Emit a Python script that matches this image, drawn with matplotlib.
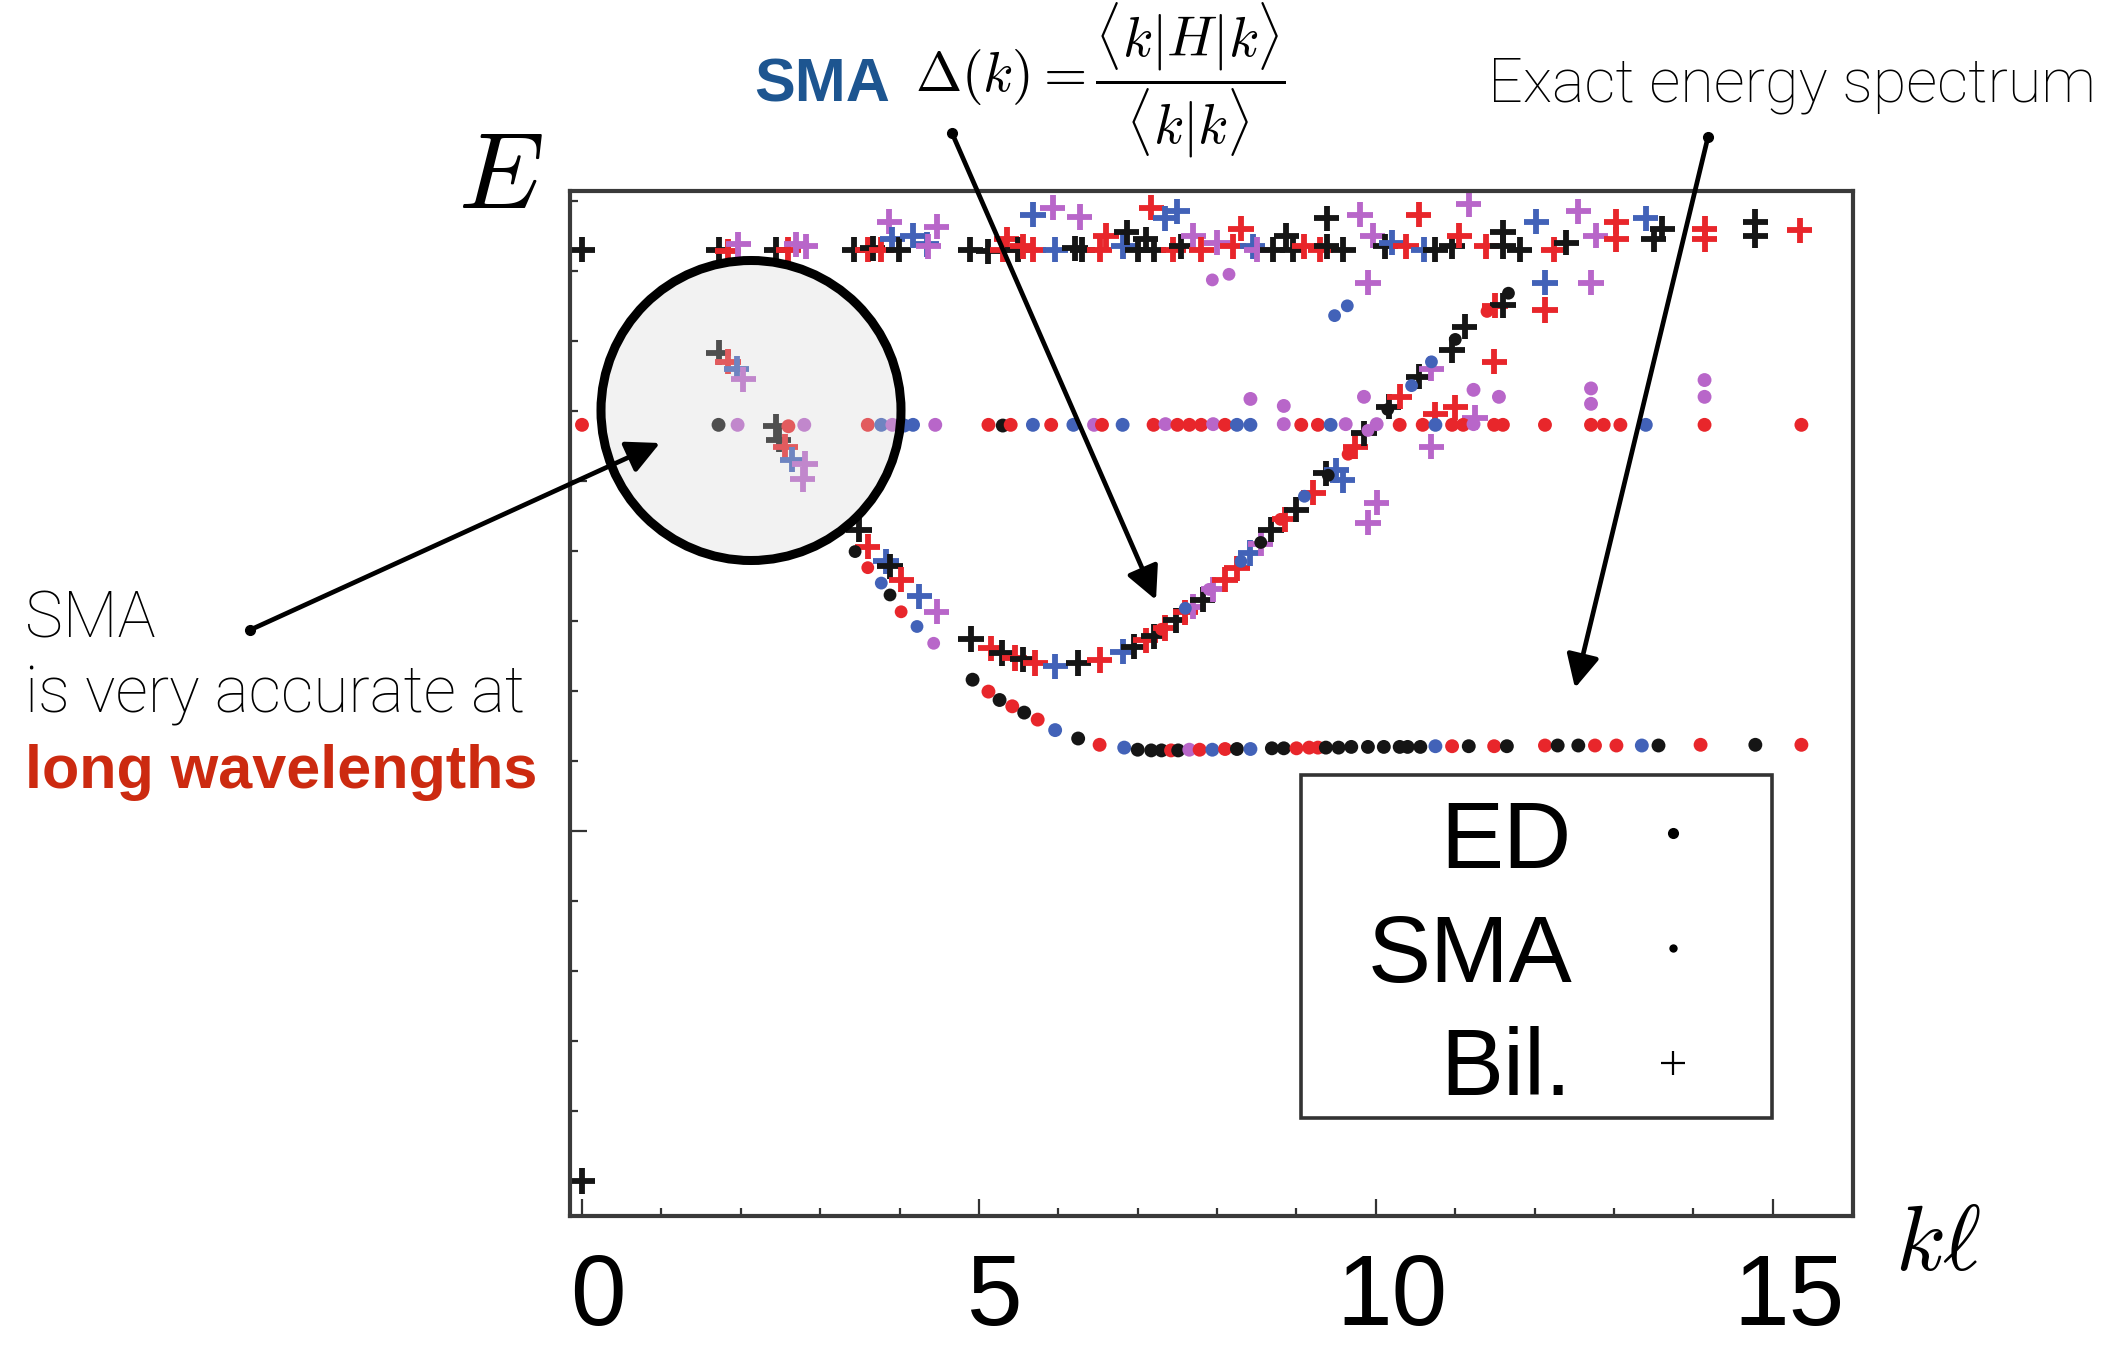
import matplotlib
matplotlib.use("Agg")
import matplotlib.pyplot as plt
from matplotlib.patches import Ellipse, FancyArrowPatch, Rectangle
from matplotlib.lines import Line2D
from matplotlib.transforms import ScaledTranslation

plt.rcParams['mathtext.fontset'] = 'cm'
plt.rcParams['font.family'] = ['Liberation Sans', 'DejaVu Sans']

# ---------------- data (k*l, energy, colour code per point) ----------------
COLORS = {'K': '#151515', 'R': '#e8262b', 'B': '#4262b8', 'M': '#b866c9'}

# ED: lowest excitation branch
ed_low_k = [4.92, 5.12, 5.26, 5.42, 5.57, 5.74, 5.96, 6.25, 6.52, 6.83,
            7.00, 7.17, 7.30, 7.42, 7.51, 7.65, 7.78, 7.94, 8.10, 8.25,
            8.42, 8.69, 8.84, 9.00, 9.16, 9.27, 9.37, 9.53, 9.69, 9.90,
            10.10, 10.30, 10.40, 10.56, 10.75, 10.96, 11.17, 11.49, 11.65, 12.13,
            12.29, 12.55, 12.76, 13.03, 13.35, 13.56, 14.09, 14.78, 15.36]
ed_low_E = [7.16, 6.99, 6.87, 6.78, 6.69, 6.59, 6.44, 6.32, 6.23, 6.19,
            6.16, 6.15, 6.15, 6.15, 6.15, 6.16, 6.16, 6.16, 6.17, 6.17,
            6.17, 6.18, 6.18, 6.18, 6.19, 6.19, 6.19, 6.19, 6.20, 6.20,
            6.20, 6.20, 6.20, 6.20, 6.21, 6.21, 6.21, 6.21, 6.21, 6.22,
            6.22, 6.22, 6.22, 6.22, 6.22, 6.22, 6.23, 6.23, 6.23]
ed_low_c = "KRKRKRBKRB" "KKKRKMRBRK" "BKKRRRKKKK" "KKKKBRKRKR" "KKRRBKRKR"

# ED: flat band near E ~ 10.8 and a few dots above it
ed_mid_k = [0.00, 1.72, 1.96, 2.60, 2.80, 3.60, 3.77, 3.91, 4.06, 4.17,
            4.45, 5.12, 5.30, 5.40, 5.68, 5.91, 6.19, 6.45, 6.55, 6.81,
            7.20, 7.35, 7.50, 7.65, 7.80, 7.95, 8.10, 8.25, 8.42, 8.84,
            9.06, 9.27, 9.43, 9.62, 10.01, 10.30, 10.59, 10.75, 10.96, 11.10,
            11.23, 11.49, 11.60, 12.13, 12.71, 12.87, 13.08, 13.40, 14.14, 15.36,
            8.42, 8.84, 9.85, 11.23, 11.55, 12.71, 12.71, 14.14, 14.14]
ed_mid_E = [10.80, 10.80, 10.80, 10.78, 10.80, 10.80, 10.80, 10.80, 10.79, 10.80,
            10.80, 10.80, 10.79, 10.80, 10.80, 10.80, 10.80, 10.80, 10.80, 10.80,
            10.80, 10.81, 10.80, 10.80, 10.80, 10.81, 10.80, 10.80, 10.80, 10.81,
            10.80, 10.80, 10.80, 10.81, 10.81, 10.80, 10.80, 10.80, 10.80, 10.80,
            10.81, 10.80, 10.80, 10.80, 10.80, 10.80, 10.80, 10.80, 10.80, 10.80,
            11.17, 11.07, 11.20, 11.30, 11.20, 11.32, 11.10, 11.44, 11.20]
ed_mid_c = "RKMRMRBMBB" "MRKRBRBMRB" "RMRRRMRBBM" "RRBMMRRBRR" "MRRRRRRBRR" "MMMMMMMMM"

# SMA: magnetoroton branch
sma_k = [3.44, 3.60, 3.77, 3.88, 4.02, 4.22, 4.43,
         7.30, 7.60, 7.90, 8.30, 8.55, 8.80, 9.10, 9.40, 9.65, 9.90,
         10.15, 10.45, 10.70, 11.00, 11.40, 11.67,
         9.48, 9.64, 7.94, 8.15]
sma_E = [8.99, 8.76, 8.54, 8.37, 8.13, 7.92, 7.68,
         7.88, 8.18, 8.45, 8.85, 9.12, 9.45, 9.78, 10.08, 10.38, 10.72,
         11.02, 11.36, 11.70, 12.02, 12.42, 12.68,
         12.36, 12.50, 12.87, 12.95]
sma_c = "KRBKRBM" "RBMBKRBKRM" "KBBKRK" "BB" "MM"

# Bil.: ground state, long-wavelength part, magnetoroton and scattered states
bil_low_k = [0.00, 0.00,
             1.72, 1.84, 1.95, 2.03, 2.44, 2.48, 2.56, 2.65, 2.81, 2.78,
             3.49, 3.60, 3.83, 3.88, 4.02, 4.25, 4.47,
             4.90, 5.15, 5.29, 5.45, 5.55, 5.71, 5.96, 6.25, 6.52, 6.81,
             6.95, 7.10, 7.20, 7.35, 7.48, 7.60, 7.70, 7.82, 7.95, 8.10,
             8.25, 8.42, 8.55, 8.68, 8.85, 9.00, 9.21, 9.37, 9.50, 9.58,
             9.74, 9.85, 10.16, 10.30, 10.54, 10.70, 10.96, 11.12, 11.50, 11.60,
             11.49, 12.13, 12.13, 12.71, 9.90, 10.01, 9.90, 10.70, 10.75, 11.00, 11.25]
bil_low_E = [0.00, 13.30,
             11.83, 11.70, 11.60, 11.45, 10.78, 10.59, 10.49, 10.30, 10.24, 10.02,
             9.30, 9.06, 8.85, 8.78, 8.59, 8.35, 8.13,
             7.74, 7.61, 7.54, 7.47, 7.45, 7.40, 7.35, 7.40, 7.44, 7.56,
             7.63, 7.72, 7.78, 7.90, 8.01, 8.12, 8.20, 8.30, 8.45, 8.59,
             8.75, 8.97, 9.10, 9.30, 9.45, 9.59, 9.83, 10.11, 10.15, 10.01,
             10.49, 10.68, 11.06, 11.20, 11.49, 11.60, 11.87, 12.20, 12.50, 12.51,
             11.70, 12.44, 12.83, 12.83, 12.83, 9.69, 9.40, 10.49, 10.95, 11.05, 10.90]
bil_low_c = "KK" "KRBMKKRBMM" "KRBKRBM" "KRKRKRBKRB" "KRKRKRMKMR" "RBMKRKRKBB" \
            "RKKRKMKKRK" "RRBMMMMMRRM"

# Bil.: high-energy band
bil_top_k = [1.72, 1.84, 1.97, 2.45, 2.60, 2.70, 2.82,
             3.43, 3.60, 3.66, 3.77, 3.87, 3.91, 3.99, 4.17, 4.34, 4.36, 4.47,
             4.89, 5.12, 5.30, 5.35, 5.49, 5.55, 5.68, 5.68, 5.93, 5.96,
             6.21, 6.27, 6.30, 6.52, 6.60, 6.82, 6.86, 7.00, 7.10, 7.17,
             7.20, 7.35, 7.45, 7.50, 7.55, 7.70, 7.80, 8.00, 8.20, 8.30,
             8.45, 8.50, 8.70, 8.87, 8.95, 9.10, 9.30,
             9.38, 9.38, 9.59, 9.80, 9.96, 10.12, 10.20, 10.38, 10.54, 10.60,
             10.75, 10.96, 11.05, 11.17, 11.39, 11.60, 11.60, 11.81, 12.02, 12.24,
             12.40, 12.55, 12.77, 13.03, 13.03, 13.40, 13.50, 13.61, 14.14, 14.14,
             14.78, 14.78, 15.34]
bil_top_E = [13.30, 13.28, 13.38, 13.30, 13.30, 13.38, 13.35,
             13.30, 13.30, 13.32, 13.30, 13.70, 13.45, 13.30, 13.50, 13.38, 13.35, 13.63,
             13.30, 13.28, 13.30, 13.45, 13.30, 13.35, 13.80, 13.30, 13.90, 13.30,
             13.32, 13.77, 13.30, 13.30, 13.50, 13.35, 13.55, 13.30, 13.45, 13.90,
             13.30, 13.75, 13.30, 13.85, 13.35, 13.50, 13.30, 13.40, 13.35, 13.60,
             13.35, 13.30, 13.30, 13.50, 13.30, 13.35, 13.30,
             13.75, 13.35, 13.30, 13.80, 13.50, 13.35, 13.40, 13.35, 13.80, 13.30,
             13.30, 13.35, 13.50, 13.95, 13.35, 13.55, 13.35, 13.30, 13.70, 13.30,
             13.40, 13.85, 13.50, 13.70, 13.45, 13.75, 13.45, 13.60, 13.60, 13.45,
             13.70, 13.50, 13.58]
bil_top_c = "KRMKRMM" "KRKRMBKBBMM" "KKRRKRBRMB" "KMKRRBKKKR" "KBRBKMRMRR" \
            "BMKKKRR" "KKKMMKBRRB" "KKRMRKKKBR" "KMMRRBKKRR" "KKR"

x_ticks = [0, 5, 10, 15]
x_ticklabels = ["0", "5", "10", "15"]

# ---------------- figure ----------------
W, H, DPI = 2111, 1345, 100
fig = plt.figure(figsize=(W / DPI, H / DPI), dpi=DPI)
fig.patch.set_facecolor('white')


def fp(x, y):
    return (x / W, 1 - y / H)


ax = fig.add_axes([570 / W, 1 - 1216 / H, (1853 - 570) / W, (1216 - 191) / H])
ax.set_xlim(-0.151, 16.01)
ax.set_ylim(-0.5, 14.14)


def cols(codes):
    return [COLORS[c] for c in codes]


ax.scatter(bil_low_k, bil_low_E, c=cols(bil_low_c), marker='+', s=330, linewidths=4.2, zorder=2)
ax.scatter(bil_top_k, bil_top_E, c=cols(bil_top_c), marker='+', s=330, linewidths=4.2, zorder=2)
ax.scatter(sma_k, sma_E, c=cols(sma_c), marker='o', s=85, linewidths=0, zorder=3)
ax.scatter(ed_mid_k, ed_mid_E, c=cols(ed_mid_c), marker='o', s=100, linewidths=0, zorder=3)
ax.scatter(ed_low_k, ed_low_E, c=cols(ed_low_c), marker='o', s=100, linewidths=0, zorder=3)

for sp in ax.spines.values():
    sp.set_linewidth(3.0)
    sp.set_color('#3a3a3a')

ax.set_xticks(x_ticks)
ax.set_xticklabels(x_ticklabels)
ax.set_xticks(range(0, 16), minor=True)
ax.set_yticks([0, 5, 10])
ax.set_yticks(range(0, 15), minor=True)
ax.set_yticklabels([])
ax.tick_params(axis='both', which='both', direction='in', top=False, right=False,
               color='#333333', width=1.6)
ax.tick_params(axis='both', which='major', length=12)
ax.tick_params(axis='both', which='minor', length=6)
ax.tick_params(axis='x', which='major', labelsize=72, pad=26)
offset = ScaledTranslation(16 / DPI, 0, fig.dpi_scale_trans)
for lab in ax.get_xticklabels():
    lab.set_transform(lab.get_transform() + offset)

# axis symbols
fig.text(*fp(500, 180), r'$E$', fontsize=78, ha='center', va='center')
fig.text(*fp(1938, 1246), r'$k\ell$', fontsize=66, ha='center', va='center')

# SMA formula
fig.text(*fp(754, 101), 'SMA', fontsize=44, fontweight='bold', color='#1d5590',
         ha='left', va='baseline')
fig.text(*fp(915, 80), r'$\Delta(k) = \dfrac{\langle k|H|k\rangle}{\langle k|k\rangle}$',
         fontsize=40, ha='left', va='center')

fig.text(*fp(1488, 102), 'Exact energy spectrum', fontsize=44, family='Roboto',
         fontweight='light', ha='left', va='baseline')

# left annotation
fig.text(*fp(25, 637), 'SMA', fontsize=46, family='Roboto', fontweight='light',
         ha='left', va='baseline')
fig.text(*fp(25, 712), 'is very accurate at', fontsize=46, family='Roboto',
         fontweight='light', ha='left', va='baseline')
fig.text(*fp(25, 788), 'long wavelengths', fontsize=44, fontweight='bold',
         color='#cc2a10', ha='left', va='baseline')

# magnifier circle
circ = Ellipse(fp(751, 410.5), 2 * 150 / W, 2 * 150 / H, transform=fig.transFigure,
               facecolor=(0.84, 0.84, 0.84, 0.3), edgecolor='black', lw=6.5, zorder=3)
fig.add_artist(circ)


def arrow(start, end):
    a = FancyArrowPatch(fp(*start), fp(*end), transform=fig.transFigure,
                        arrowstyle='-|>,head_length=20,head_width=10', mutation_scale=1,
                        lw=3.4, color='black', shrinkA=0, shrinkB=0, zorder=5)
    fig.add_artist(a)
    sx, sy = fp(*start)
    fig.add_artist(Line2D([sx], [sy], transform=fig.transFigure, marker='o', ms=7,
                          color='black', zorder=5))


arrow((250, 630), (660, 443))
arrow((952, 133), (1156, 600))
arrow((1708, 137), (1575, 688))

# legend
rect = Rectangle(fp(1301, 1118), (1772 - 1301) / W, (1118 - 775) / H, transform=fig.transFigure,
                 facecolor='white', edgecolor='#333333', lw=2.6, zorder=4)
fig.add_artist(rect)
for label, yb in [('ED', 868), ('SMA', 982), ('Bil.', 1095)]:
    fig.text(*fp(1572, yb), label, fontsize=68, ha='right', va='baseline', zorder=6)
for (mk, ms, mew), yc in [(('o', 8, 0), 833), (('o', 6, 0), 948), (('+', 17, 1.6), 1063)]:
    x0, y0 = fp(1673, yc)
    fig.add_artist(Line2D([x0], [y0], transform=fig.transFigure, marker=mk, ms=ms,
                          mew=mew, color='black', linestyle='none', zorder=6))

fig.savefig('out.png', dpi=DPI)
